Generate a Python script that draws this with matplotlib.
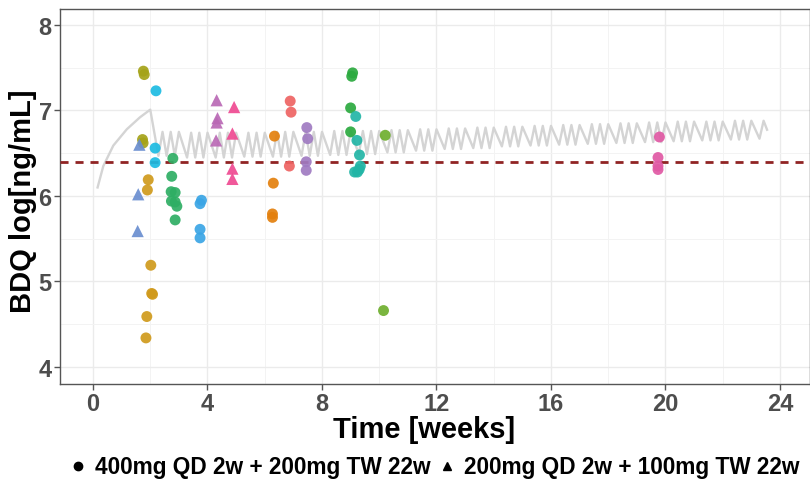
import numpy as np
import matplotlib
matplotlib.use("Agg")
import matplotlib.pyplot as plt
from matplotlib.lines import Line2D

plt.rcParams['font.family'] = ['Liberation Sans', 'DejaVu Sans']
plt.rcParams['font.weight'] = 'bold'

### observed concentrations (one list per subject) ###
subj_week = {
    'A': [1.76, 1.79, 1.73, 1.75],
    'B': [1.93, 1.90, 2.02, 2.05, 2.08, 1.88, 1.85],
    'C': [2.20, 2.17, 2.17],
    'D': [1.62, 1.58, 1.56],
    'E': [2.79, 2.75, 2.73, 2.87, 2.74, 2.87, 2.93, 2.87],
    'F': [3.79, 3.74, 3.74, 3.74],
    'G': [4.32, 4.35, 4.32, 4.30],
    'H': [4.93, 4.87, 4.87, 4.87],
    'I': [6.34, 6.30, 6.27, 6.27],
    'J': [6.89, 6.92, 6.86],
    'K': [7.47, 7.50, 7.45, 7.45],
    'L': [9.07, 9.04, 9.00, 9.00],
    'M': [9.18, 9.22, 9.31, 9.34, 9.14, 9.24, 9.30],
    'N': [10.21, 10.15],
    'O': [19.79, 19.74, 19.74, 19.74],
}
subj_conc = {
    'A': [7.46, 7.42, 6.66, 6.62],
    'B': [6.19, 6.07, 5.19, 4.86, 4.85, 4.59, 4.34],
    'C': [7.23, 6.56, 6.39],
    'D': [6.60, 6.02, 5.59],
    'E': [6.44, 6.23, 6.05, 6.04, 5.94, 5.93, 5.88, 5.72],
    'F': [5.95, 5.91, 5.61, 5.51],
    'G': [7.12, 6.91, 6.86, 6.65],
    'H': [7.04, 6.73, 6.32, 6.20],
    'I': [6.70, 6.15, 5.79, 5.75],
    'J': [7.11, 6.98, 6.35],
    'K': [6.80, 6.67, 6.40, 6.30],
    'L': [7.44, 7.40, 7.03, 6.75],
    'M': [6.93, 6.65, 6.48, 6.35, 6.28, 6.28, 6.31],
    'N': [6.71, 4.66],
    'O': [6.69, 6.45, 6.35, 6.31],
}
subj_color = {
    'A': '#A5A319', 'B': '#D09A1C', 'C': '#1DBBE2', 'D': '#6A8ED0',
    'E': '#2EAE64', 'F': '#3AA5E5', 'G': '#BA69B5', 'H': '#EF4A92',
    'I': '#E3800E', 'J': '#EE6463', 'K': '#A07BC2', 'L': '#2BAA3F',
    'M': '#22B5A6', 'N': '#6FAF2E', 'O': '#E059A4',
}
subj_regimen = {k: 'o' for k in subj_week}
for k in ['D', 'G', 'H']:
    subj_regimen[k] = '^'

### simulated typical profile ###
load_week = [0.16, 0.36, 0.71, 1.18, 1.64, 2.0]
load_val = [6.10, 6.35, 6.59, 6.78, 6.92, 7.01]
tw_start = 2.286
tw_dose_day = [0, 2, 4]
tw_peak = [6.75, 6.74, 6.74, 6.74, 6.75, 6.75, 6.76, 6.76, 6.77, 6.78, 6.79,
           6.80, 6.81, 6.82, 6.83, 6.84, 6.85, 6.86, 6.87, 6.87, 6.88, 6.88]
tw_trough = [6.47, 6.45, 6.45, 6.46, 6.46, 6.47, 6.48, 6.49, 6.51, 6.53, 6.55,
             6.56, 6.58, 6.59, 6.60, 6.61, 6.62, 6.63, 6.64, 6.65, 6.66, 6.67]
sim_end = 23.55
target = 6.40

sim_x = list(load_week)
sim_y = list(load_val)
for w in range(len(tw_peak)):
    for d in tw_dose_day:
        t = tw_start + w + d / 7
        if t > sim_end:
            break
        sim_x += [t, t + 1 / 7]
        sim_y += [tw_trough[w], tw_peak[w]]
sim_x.append(sim_end)
sim_y.append((tw_peak[-1] + tw_trough[-1]) / 2)

fig = plt.figure(figsize=(8.10, 4.81), dpi=100)
ax = fig.add_axes([60 / 810, 1 - 385 / 481, 750 / 810, 375 / 481])

ax.plot(sim_x, sim_y, color='#D4D4D4', lw=1.7, zorder=2)
ax.axhline(target, color='#902424', lw=2.0, dashes=(2.9, 2.5), zorder=3)

for k in subj_week:
    ax.scatter(subj_week[k], subj_conc[k], s=62 if subj_regimen[k] == 'o' else 78,
               marker=subj_regimen[k], color=subj_color[k], alpha=0.92,
               edgecolors='none', zorder=4)

ax.set_xlim(-1.153, 25.05)
ax.set_ylim(3.801, 8.187)
ax.set_xticks([0, 4, 8, 12, 16, 20, 24])
ax.set_yticks([4, 5, 6, 7, 8])
ax.set_xticks(np.arange(2, 25, 4), minor=True)
ax.set_yticks([4.5, 5.5, 6.5, 7.5], minor=True)
ax.grid(which='major', color='#EBEBEB', lw=1.0, zorder=0)
ax.grid(which='minor', color='#F3F3F3', lw=0.7, zorder=0)
ax.set_axisbelow(True)
ax.tick_params(which='major', length=4, width=1, color='#555555',
               labelsize=17, labelcolor='#4D4D4D', pad=2)
ax.tick_params(which='minor', length=0)
for lab in ax.get_xticklabels() + ax.get_yticklabels():
    lab.set_fontweight('bold')
for sp in ax.spines.values():
    sp.set_color('#555555')
    sp.set_linewidth(1.0)

ax.set_xlabel('Time [weeks]', fontsize=21, fontweight='bold')
ax.set_ylabel('BDQ log[ng/mL]', fontsize=21, fontweight='bold')
ax.xaxis.set_label_coords((424 - 60) / 750, -0.083, transform=ax.transAxes)
ax.xaxis.label.set_va('top')
ax.yaxis.set_label_coords((37 - 60) / 750, 0.49, transform=ax.transAxes)

handles = [Line2D([], [], marker='o', ls='none', color='black', markersize=6),
           Line2D([], [], marker='^', ls='none', color='black', markersize=6)]
fig.legend(handles, ['400mg QD 2w + 200mg TW 22w', '200mg QD 2w + 100mg TW 22w'],
           loc='center left', bbox_to_anchor=(60 / 810, 1 - 468 / 481), ncol=2,
           frameon=False, prop={'size': 16.3, 'weight': 'bold'}, handlelength=0.6,
           handletextpad=0.45, columnspacing=0.4, borderpad=0)

fig.savefig('out.png', dpi=100)
